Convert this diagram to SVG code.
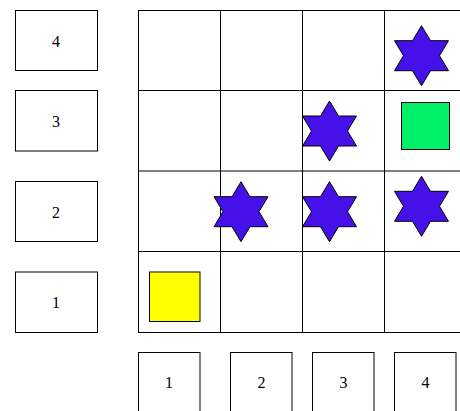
<svg xmlns="http://www.w3.org/2000/svg" width="460" height="411" viewBox="0 0 460 411">
<defs>
<style>
.box{fill:#fff;stroke:#000;stroke-width:1}
.grid{fill:none;stroke:#000;stroke-width:1}
.lbl{font-family:"Liberation Serif","Times New Roman",serif;font-size:16px;fill:#000;text-anchor:middle;dominant-baseline:central}
.star{fill:#4610e8;stroke:#000;stroke-width:1;stroke-linejoin:miter}
</style>
<path id="hex" d="M0,-30 L9,-15 L27,-15 L18,0 L27,15 L9,15 L0,30 L-9,15 L-27,15 L-18,0 L-27,-15 L-9,-15 Z"/>
</defs>
<rect width="460" height="411" fill="#fff"/>
<g id="row-labels">
<g id="row4"><rect class="box" x="15.5" y="10.5" width="82" height="60"/><text class="lbl" x="56" y="41">4</text></g>
<g id="row3"><rect class="box" x="15.5" y="90.5" width="82" height="60.5"/><text class="lbl" x="56" y="121">3</text></g>
<g id="row2"><rect class="box" x="15.5" y="181.5" width="82" height="60"/><text class="lbl" x="56" y="212">2</text></g>
<g id="row1"><rect class="box" x="15.5" y="272" width="82" height="60.5"/><text class="lbl" x="56" y="302">1</text></g>
</g>
<g id="grid">
<rect class="grid" x="138.5" y="10.5" width="328" height="322"/>
<path class="grid" d="M220.5,10.5 V332.5 M302.5,10.5 V332.5 M384.5,10.5 V332.5 M138.5,90.5 H466 M138.5,171 H466 M138.5,251.5 H466"/>
</g>
<g id="col-labels">
<g id="col1"><rect class="box" x="138.5" y="352.5" width="61.5" height="62"/><text class="lbl" x="169" y="382.5">1</text></g>
<g id="col2"><rect class="box" x="230.5" y="352.5" width="61.5" height="62"/><text class="lbl" x="261.5" y="382.5">2</text></g>
<g id="col3"><rect class="box" x="312.5" y="352.5" width="61.5" height="62"/><text class="lbl" x="343.5" y="382.5">3</text></g>
<g id="col4"><rect class="box" x="394.5" y="352.5" width="61.5" height="62"/><text class="lbl" x="425.5" y="382.5">4</text></g>
</g>
<g id="items">
<g id="star-4-4"><use href="#hex" class="star" transform="translate(421.5,55.7)"/></g>
<g id="star-3-3"><use href="#hex" class="star" transform="translate(329.5,131)"/></g>
<g id="green-3-4"><rect x="401.5" y="102.5" width="48" height="47" fill="#00f068" stroke="#000" stroke-width="1"/></g>
<g id="star-2-2"><use href="#hex" class="star" transform="translate(241,211.7)"/></g>
<g id="star-2-3"><use href="#hex" class="star" transform="translate(329.5,211.7)"/></g>
<g id="star-2-4"><use href="#hex" class="star" transform="translate(421.5,206.3)"/></g>
<g id="yellow-1-1"><rect x="149.5" y="272" width="50.5" height="49.5" fill="#ffff00" stroke="#000" stroke-width="1"/></g>
</g>
</svg>
